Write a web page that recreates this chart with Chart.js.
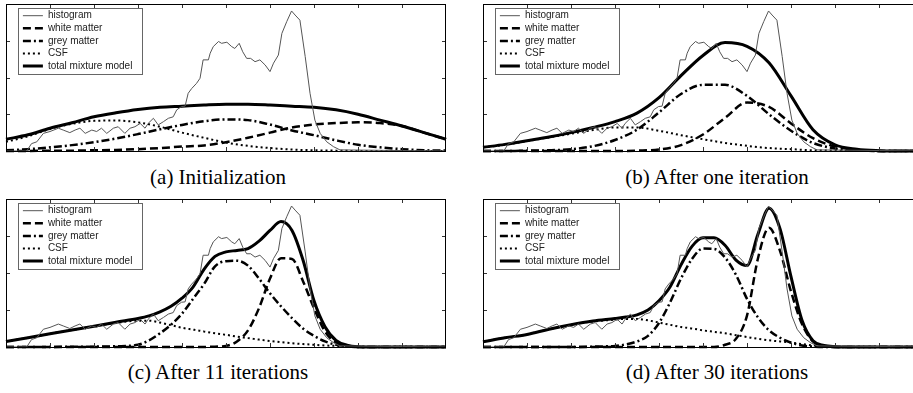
<!DOCTYPE html>
<html>
<head>
<meta charset="utf-8">
<script src="https://cdn.jsdelivr.net/npm/chart.js@4.4.0/dist/chart.umd.min.js"></script>
<style>
html, body { margin: 0; padding: 0; background: #fff; width: 913px; height: 393px; overflow: hidden; }
.panel { position: absolute; }
.cap { position: absolute; width: 440px; text-align: center; font-family: "Liberation Serif", serif; font-size: 21px; color: #000; white-space: nowrap; }
</style>
</head>
<body>
<div class="panel" style="left:2px;top:0px;width:448px;height:155px"><canvas id="pa"></canvas></div>
<div class="panel" style="left:479px;top:0px;width:448px;height:155px"><canvas id="pb"></canvas></div>
<div class="panel" style="left:2px;top:195px;width:448px;height:156px"><canvas id="pc"></canvas></div>
<div class="panel" style="left:479px;top:195px;width:448px;height:156px"><canvas id="pd"></canvas></div>
<div class="cap" style="left:-2px;top:165px">(a) Initialization</div>
<div class="cap" style="left:497px;top:165px">(b) After one iteration</div>
<div class="cap" style="left:-2px;top:360px">(c) After 11 iterations</div>
<div class="cap" style="left:497px;top:360px">(d) After 30 iterations</div>
<script>
// tick positions (no labels on the axes)
var xTicks = [10, 20, 30, 40, 50, 60, 70, 80, 90];
var yTicks = [1, 2, 3];
var seriesNames = ["histogram", "white matter", "grey matter", "CSF", "total mixture model"];

// intensity histogram (same in all four panels)
var histX = [0, 4.7, 5.8, 7, 8.5, 10, 11.9, 13, 14.5, 15.7, 16.8, 18, 19.5, 20.6, 21.7, 22.9, 24.4, 25.5, 27, 28.2, 29.3,
  30.5, 31.6, 32.3, 33.5, 34.6, 35.8, 36.9, 38, 38.8, 39.9, 40.7, 41.4, 42.2, 43.3, 44.1, 44.8, 46, 46.4, 47.1, 48.3,
  49, 50.2, 51.3, 52, 53, 53.8, 54.7, 55.6, 56.6, 57.7, 58.9, 60, 60.8, 61.9, 62.7, 63.8, 64.9, 65.7, 66.8, 68,
  69.1, 70.2, 71.4, 72.9, 74.4, 75.9, 100];
var histY = [0, 0, 0.2, 0.25, 0.48, 0.53, 0.62, 0.57, 0.5, 0.57, 0.62, 0.48, 0.57, 0.53, 0.62, 0.48, 0.62, 0.66, 0.48, 0.62, 0.66,
  0.75, 0.62, 0.75, 0.89, 0.71, 0.8, 0.89, 0.93, 1.12, 1.21, 1.22, 1.57, 1.7, 1.84, 1.98, 2.48, 2.48, 2.66, 2.84, 2.98,
  2.93, 2.96, 2.84, 2.79, 2.93, 2.7, 2.52, 2.52, 2.43, 2.48, 2.34, 2.16, 2.39, 2.61, 3.2, 3.52, 3.81, 3.7, 3.56, 2.57,
  1.57, 0.84, 0.48, 0.25, 0.12, 0.03, 0];

// model curves, panels a and b
var xCoarse = [0, 5, 10, 15, 20, 25, 30, 35, 40, 45, 50, 55, 60, 65, 70, 75, 80, 85, 90, 95, 100];
var whiteA = [0, 0, 0.01, 0.01, 0.02, 0.03, 0.05, 0.08, 0.12, 0.15, 0.24, 0.36, 0.5, 0.64, 0.72, 0.76, 0.78, 0.76, 0.68, 0.5, 0.32];
var greyA = [0.02, 0.05, 0.1, 0.16, 0.24, 0.34, 0.46, 0.59, 0.71, 0.81, 0.86, 0.84, 0.72, 0.56, 0.43, 0.29, 0.17, 0.1, 0.05, 0.02, 0.01];
var csfA = [0.25, 0.4, 0.6, 0.74, 0.82, 0.83, 0.78, 0.66, 0.5, 0.36, 0.23, 0.14, 0.08, 0.04, 0.02, 0.01, 0, 0, 0, 0, 0];
var totalA = [0.32, 0.44, 0.62, 0.77, 0.93, 1.04, 1.13, 1.19, 1.22, 1.25, 1.27, 1.27, 1.25, 1.22, 1.19, 1.12, 1.0, 0.84, 0.68, 0.5, 0.32];

var whiteB = [0, 0, 0, 0, 0, 0, 0, 0.01, 0.04, 0.16, 0.45, 0.9, 1.32, 1.2, 0.75, 0.35, 0.12, 0.03, 0, 0, 0];
var greyB = [0, 0, 0.01, 0.02, 0.05, 0.13, 0.3, 0.58, 1.05, 1.55, 1.8, 1.8, 1.5, 1.0, 0.55, 0.22, 0.07, 0.02, 0, 0, 0];
var csfB = [0.1, 0.17, 0.27, 0.37, 0.47, 0.57, 0.64, 0.64, 0.55, 0.43, 0.32, 0.22, 0.14, 0.08, 0.05, 0.02, 0.01, 0, 0, 0, 0];
var totalB = [0.1, 0.18, 0.28, 0.38, 0.5, 0.64, 0.8, 1.03, 1.45, 2.05, 2.6, 2.95, 2.85, 2.4, 1.5, 0.58, 0.17, 0.05, 0.01, 0, 0];

// model curves, panels c and d (finer steps around the peaks)
var xFine = [0, 5, 10, 15, 20, 25, 30, 32.5, 35, 37.5, 40, 42.5, 45, 47.5, 50, 52.5, 55, 57.5, 60, 62.5, 65, 67.5, 70,
  72.5, 75, 77.5, 80, 85, 90, 95, 100];
var whiteC = [0, 0, 0, 0, 0, 0, 0, 0, 0, 0, 0, 0, 0, 0.01, 0.03, 0.15, 0.45, 1.05, 1.85, 2.4, 2.38, 1.78, 1.05, 0.42, 0.12, 0.03, 0, 0, 0, 0, 0];
var greyC = [0, 0, 0, 0.01, 0.01, 0.02, 0.06, 0.18, 0.37, 0.6, 0.9, 1.3, 1.7, 2.18, 2.32, 2.33, 2.2, 1.85, 1.45, 1.1, 0.78, 0.5, 0.3, 0.15, 0.06, 0.02, 0, 0, 0, 0, 0];
var csfC = [0.15, 0.25, 0.36, 0.46, 0.56, 0.65, 0.71, 0.71, 0.66, 0.59, 0.52, 0.47, 0.42, 0.37, 0.33, 0.28, 0.24, 0.2, 0.16, 0.13, 0.1, 0.08, 0.06, 0.04, 0.03, 0.02, 0.01, 0, 0, 0, 0];
var totalC = [0.15, 0.25, 0.36, 0.46, 0.56, 0.67, 0.77, 0.84, 0.95, 1.1, 1.32, 1.62, 2.1, 2.45, 2.57, 2.61, 2.66, 2.86, 3.15, 3.39, 3.15, 2.35, 1.25, 0.55, 0.18, 0.05, 0.01, 0, 0, 0, 0];

var whiteD = [0, 0, 0, 0, 0, 0, 0, 0, 0, 0, 0, 0, 0, 0, 0, 0, 0.06, 0.22, 0.85, 2.4, 3.22, 2.6, 1.5, 0.62, 0.15, 0.03, 0, 0, 0, 0, 0];
var greyD = [0, 0, 0, 0, 0, 0.01, 0.03, 0.07, 0.15, 0.3, 0.65, 1.2, 1.85, 2.38, 2.66, 2.65, 2.42, 1.95, 1.3, 0.8, 0.45, 0.25, 0.12, 0.04, 0.01, 0, 0, 0, 0, 0, 0];
var csfD = [0.14, 0.25, 0.34, 0.48, 0.6, 0.69, 0.74, 0.76, 0.76, 0.72, 0.66, 0.6, 0.54, 0.5, 0.45, 0.41, 0.37, 0.32, 0.27, 0.22, 0.18, 0.15, 0.12, 0.08, 0.04, 0.02, 0.01, 0, 0, 0, 0];
var totalD = [0.14, 0.25, 0.34, 0.48, 0.6, 0.7, 0.77, 0.81, 0.87, 1.0, 1.25, 1.62, 2.22, 2.72, 2.95, 2.95, 2.75, 2.35, 2.2, 3.05, 3.75, 3.2, 1.9, 0.72, 0.17, 0.04, 0.01, 0, 0, 0, 0];

function pts(xs, ys) {
  return xs.map(function (v, i) { return { x: v, y: ys[i] }; });
}

// box round the plot, inward ticks, and a frame round the legend
var framePlugin = {
  id: "frame",
  afterLayout: function (chart) {
    var lg = chart.legend, a = chart.chartArea;
    var dx = a.left + 14.3 - lg.left, dy = a.top + 4.1 - lg.top;
    lg.left += dx; lg.right += dx;
    lg.top += dy; lg.bottom += dy;
  },
  afterDraw: function (chart) {
    var ctx = chart.ctx, a = chart.chartArea;
    var sx = chart.scales.x, sy = chart.scales.y;
    ctx.save();
    ctx.setLineDash([]);
    ctx.lineWidth = 1;
    ctx.strokeStyle = "#333";
    ctx.beginPath();
    xTicks.forEach(function (v) {
      var px = Math.round(sx.getPixelForValue(v)) + 0.5;
      ctx.moveTo(px, a.top); ctx.lineTo(px, a.top + 4);
      ctx.moveTo(px, a.bottom); ctx.lineTo(px, a.bottom - 4);
    });
    yTicks.forEach(function (v) {
      var py = Math.round(sy.getPixelForValue(v)) + 0.5;
      ctx.moveTo(a.left, py); ctx.lineTo(a.left + 4, py);
      ctx.moveTo(a.right, py); ctx.lineTo(a.right - 4, py);
    });
    ctx.stroke();
    ctx.strokeStyle = "#000";
    ctx.strokeRect(Math.round(a.left) + 0.5, Math.round(a.top) + 0.5, Math.round(a.width) - 1, Math.round(a.height));
    ctx.strokeStyle = "#666";
    ctx.strokeRect(Math.round(a.left) + 12.5, Math.round(a.top) + 4.5, 124, 66);
    ctx.restore();
  }
};

function newchart(id, xs, white, grey, csf, total) {
  var ctx = document.getElementById(id).getContext("2d");
  var common = { fill: false, pointRadius: 0, borderColor: "#000", cubicInterpolationMode: "monotone", clip: 3 };
  return new Chart(ctx, {
    type: "line",
    data: {
      datasets: [
        { label: seriesNames[0], data: pts(histX, histY), borderColor: "#555", borderWidth: 1, pointRadius: 0, fill: false, tension: 0, clip: 3 },
        Object.assign({ label: seriesNames[1], data: pts(xs, white), borderWidth: 2.5, borderDash: [8, 4] }, common),
        Object.assign({ label: seriesNames[2], data: pts(xs, grey), borderWidth: 2.5, borderDash: [8, 3, 2, 3] }, common),
        Object.assign({ label: seriesNames[3], data: pts(xs, csf), borderWidth: 2, borderDash: [2, 3] }, common),
        Object.assign({ label: seriesNames[4], data: pts(xs, total), borderWidth: 3 }, common)
      ]
    },
    options: {
      responsive: true,
      maintainAspectRatio: false,
      animation: false,
      layout: { padding: 4 },
      scales: {
        x: { type: "linear", min: 0, max: 100, display: false },
        y: { min: 0, max: 4, display: false }
      },
      plugins: {
        tooltip: { enabled: false },
        legend: {
          position: "chartArea",
          align: "start",
          labels: {
            usePointStyle: true,
            pointStyleWidth: 20,
            padding: 2.6,
            color: "#222",
            font: { family: "Liberation Sans", size: 10 },
            generateLabels: function (chart) {
              return chart.data.datasets.map(function (ds, i) {
                return {
                  text: ds.label, datasetIndex: i, pointStyle: "line",
                  strokeStyle: ds.borderColor, fillStyle: ds.borderColor,
                  lineWidth: ds.borderWidth, lineDash: ds.borderDash || [], fontColor: "#222"
                };
              });
            }
          }
        }
      }
    },
    plugins: [framePlugin]
  });
}

newchart("pa", xCoarse, whiteA, greyA, csfA, totalA);
newchart("pb", xCoarse, whiteB, greyB, csfB, totalB);
newchart("pc", xFine, whiteC, greyC, csfC, totalC);
newchart("pd", xFine, whiteD, greyD, csfD, totalD);
</script>
</body>
</html>
